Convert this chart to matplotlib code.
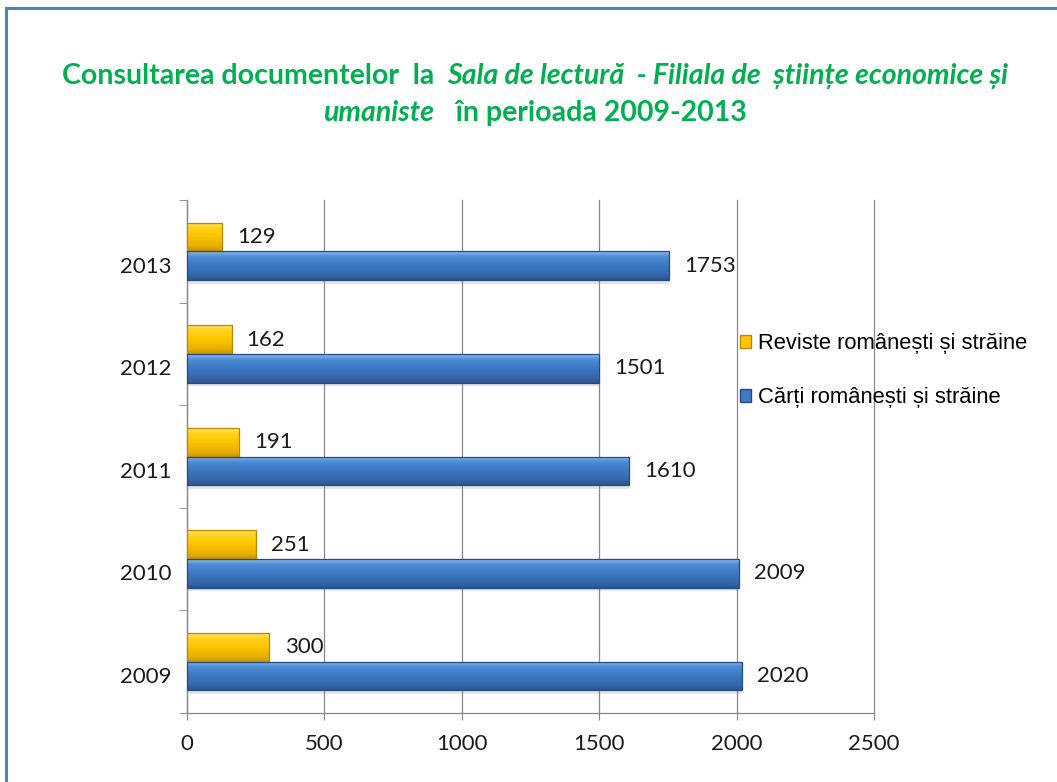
import numpy as np
import matplotlib.pyplot as plt
from matplotlib.lines import Line2D
from matplotlib.patches import Patch
from matplotlib.colors import LinearSegmentedColormap

years = ['2009', '2010', '2011', '2012', '2013']
carti = [2020, 2009, 1610, 1501, 1753]
reviste = [300, 251, 191, 162, 129]
lbl_carti = 'Cărți românești și străine'
lbl_reviste = 'Reviste românești și străine'

FONT = ['Lato', 'DejaVu Sans']
plt.rcParams['font.family'] = FONT

fig = plt.figure(figsize=(10.57, 7.82), dpi=100)
ax = fig.add_axes([0.1769, 0.0882, 0.65, 0.656])

y = np.arange(len(years))
h = 0.28

blue_cm = LinearSegmentedColormap.from_list(
    'b', [(0, '#2A568F'), (0.18, '#3567AA'), (0.55, '#3F7AC4'), (0.82, '#4E8DD6'), (1, '#8BBCEE')])
yel_cm = LinearSegmentedColormap.from_list(
    'y', [(0, '#C99600'), (0.18, '#E8B000'), (0.55, '#FFC600'), (0.82, '#FFD21F'), (1, '#FFE16A')])
grad = np.linspace(0, 1, 64).reshape(-1, 1)

def bevel_bar(ypos, vals, cmap, edge):
    # soft shadow under the bar
    ax.barh(ypos - h * 0.56, vals, height=h * 0.12, color='#888888', alpha=0.22, linewidth=0, zorder=2)
    bars = ax.barh(ypos, vals, height=h, color='none', edgecolor=edge, linewidth=0.9, zorder=4)
    for b in bars:
        x0, y0 = b.get_x(), b.get_y()
        im = ax.imshow(grad, cmap=cmap, origin='lower', aspect='auto', zorder=3,
                       extent=(x0, x0 + b.get_width(), y0, y0 + b.get_height()))
        im.set_clip_path(b)

bevel_bar(y + h / 2, reviste, yel_cm, '#B88A00')
bevel_bar(y - h / 2, carti, blue_cm, '#244C82')

for i in range(len(years)):
    ax.text(reviste[i] + 55, y[i] + h / 2, str(reviste[i]), va='center', ha='left',
            fontsize=16, color='#1a1a1a', zorder=5)
    ax.text(carti[i] + 55, y[i] - h / 2, str(carti[i]), va='center', ha='left',
            fontsize=16, color='#1a1a1a', zorder=5)

ax.set_xlim(0, 2500)
ax.set_ylim(-0.5, 4.5)
ax.set_xticks(np.arange(0, 2501, 500))
ax.tick_params(axis='x', labelsize=16, length=5, color='#888888', pad=10, labelcolor='#1a1a1a')
ax.xaxis.grid(True, color='#888888', linewidth=0.9)
for gl in ax.get_xgridlines():
    gl.set_clip_on(False)
ax.set_axisbelow(True)

ax.set_yticks(y - 0.13)
ax.set_yticklabels(years, fontsize=16, color='#1a1a1a')
ax.tick_params(axis='y', length=0, pad=11)
ax.set_yticks(np.arange(-0.5, 4.6, 1), minor=True)
ax.tick_params(axis='y', which='minor', length=6, color='#888888')

for s in ['top', 'right']:
    ax.spines[s].set_visible(False)
for s in ['left', 'bottom']:
    ax.spines[s].set_color('#888888')
    ax.spines[s].set_linewidth(0.9)

handles = [Patch(facecolor='#FFC600', edgecolor='#B88A00', label=lbl_reviste),
           Patch(facecolor='#3F7AC4', edgecolor='#244C82', label=lbl_carti)]
fig.legend(handles=handles, loc='upper left', bbox_to_anchor=(0.681, 0.599), frameon=False,
           prop={'family': ['Liberation Sans', 'DejaVu Sans'], 'size': 15.8},
           handlelength=0.5, handleheight=0.5, handletextpad=0.35, labelspacing=1.5)

# title with mixed upright / italic pieces
green = '#00B050'
lines = [
    [('Consultarea documentelor  la  ', 'normal'),
     ('Sala de lectură  - Filiala de  științe economice și', 'italic')],
    [('umaniste', 'italic'), ('   în perioada 2009-2013', 'normal')],
]
ys = [1 - 76 / 782, 1 - 113 / 782]
fig.canvas.draw()
r = fig.canvas.get_renderer()
for parts, yy in zip(lines, ys):
    txts = []
    for s, st in parts:
        t = fig.text(0, yy, s, fontsize=20.5, fontweight='bold', style=st, color=green,
                     va='center', ha='left')
        txts.append(t)
    widths = [t.get_window_extent(r).width / fig.bbox.width for t in txts]
    x = 535 / 1057 - sum(widths) / 2
    for t, w in zip(txts, widths):
        t.set_x(x)
        x += w

# outer blue frame
fig.add_artist(Line2D([6 / 1057, 1.0], [1 - 8 / 782] * 2, color='#4F81BD', linewidth=2.2))
fig.add_artist(Line2D([6 / 1057] * 2, [0, 1 - 8 / 782], color='#4F81BD', linewidth=2.2))

fig.savefig('out.png', dpi=100)
